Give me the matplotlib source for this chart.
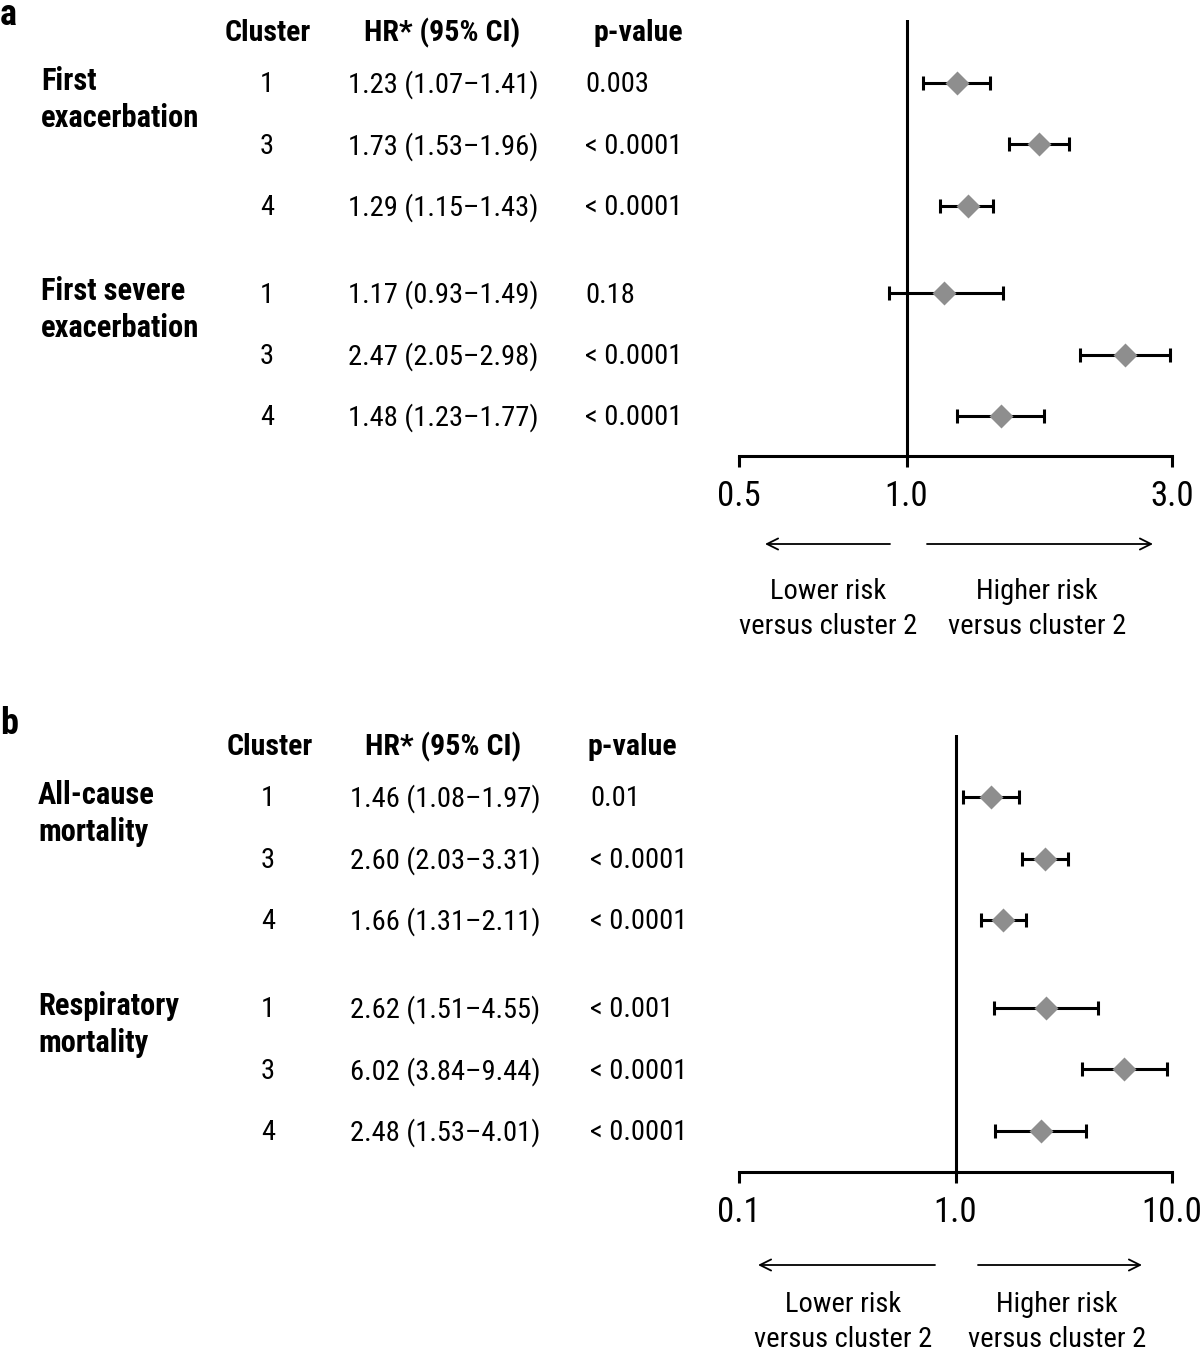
import matplotlib
matplotlib.use("Agg")
import matplotlib.pyplot as plt
import matplotlib.transforms as mtransforms
from matplotlib.patches import FancyArrowPatch
from matplotlib.ticker import NullLocator
import numpy as np

plt.rcParams['font.family'] = ['Nimbus Sans Narrow', 'Roboto Condensed',
                               'IBM Plex Sans Condensed', 'DejaVu Sans']

# ------------------------------------------------------------
# Dati
groups_a = ["First\nexacerbation", "First severe\nexacerbation"]
clusters_a = ["1", "3", "4", "1", "3", "4"]
hr_a = [1.23, 1.73, 1.29, 1.17, 2.47, 1.48]
lo_a = [1.07, 1.53, 1.15, 0.93, 2.05, 1.23]
hi_a = [1.41, 1.96, 1.43, 1.49, 2.98, 1.77]
p_a = ["0.003", "< 0.0001", "< 0.0001", "0.18", "< 0.0001", "< 0.0001"]
ticks_a = [0.5, 1.0, 3.0]
ticklabels_a = ["0.5", "1.0", "3.0"]

groups_b = ["All-cause\nmortality", "Respiratory\nmortality"]
clusters_b = ["1", "3", "4", "1", "3", "4"]
hr_b = [1.46, 2.60, 1.66, 2.62, 6.02, 2.48]
lo_b = [1.08, 2.03, 1.31, 1.51, 3.84, 1.53]
hi_b = [1.97, 3.31, 2.11, 4.55, 9.44, 4.01]
p_b = ["0.01", "< 0.0001", "< 0.0001", "< 0.001", "< 0.0001", "< 0.0001"]
ticks_b = [0.1, 1.0, 10.0]
ticklabels_b = ["0.1", "1.0", "10.0"]
# ------------------------------------------------------------

W, H = 1200, 1351
fig = plt.figure(figsize=(W / 100, H / 100), dpi=100)


def fx(px):
    return px / W


def fy(py):
    return 1 - py / H


# posizioni delle righe: 3 righe per gruppo, con uno spazio tra i gruppi
GAP = 1.43
rows = np.array([0, 1, 2, GAP + 2, GAP + 3, GAP + 4])

BODY = 20.5
HEAD = 21.5
GROUP = 22
LW = 2.2
DY = 0.03  # piccolo spostamento verticale del testo delle righe


def forest_panel(letter, letter_px, top_px, row0_px, step_px, base_px, groups, clusters,
                 hr, lo, hi, pvals, ticks, ticklabels, cols, arrows, risk_x):
    """Disegna un pannello: tabella di testo a sinistra e forest plot a destra."""
    y_top = (top_px - row0_px) / step_px
    y_bot = (base_px - row0_px) / step_px
    ax = fig.add_axes([fx(739), fy(base_px), fx(1172) - fx(739), (base_px - top_px) / H])
    ax.set_xscale('log')
    ax.set_xlim(ticks[0], ticks[-1])
    ax.set_ylim(y_bot, y_top)

    hr = np.array(hr)
    lo = np.array(lo)
    hi = np.array(hi)
    ax.axvline(1.0, color='black', lw=LW, zorder=1)
    ax.errorbar(hr, rows, xerr=[hr - lo, hi - hr], fmt='none', ecolor='black',
                elinewidth=LW, capsize=4.7, capthick=LW, zorder=2)
    ax.plot(hr, rows, 'D', color='#8e8e8e', ms=12.5, mec='none', zorder=3)

    for s in ['left', 'top', 'right']:
        ax.spines[s].set_visible(False)
    ax.spines['bottom'].set_linewidth(LW)
    ax.set_yticks([])
    ax.set_xticks(ticks)
    ax.set_xticklabels(ticklabels)
    ax.xaxis.set_minor_locator(NullLocator())
    ax.tick_params(axis='x', length=8, width=LW, pad=9, labelsize=25)
    ax.patch.set_visible(False)

    # tabella di testo
    tr = mtransforms.blended_transform_factory(fig.transFigure, ax.transData)
    c_head, hr_head, p_head, c_num, hr_left, p_left, g_left = cols
    yh = -0.81
    ax.text(fx(c_head), yh, "Cluster", transform=tr, ha='center', va='center',
            fontsize=HEAD, fontweight='bold')
    ax.text(fx(hr_head), yh, "HR* (95% CI)", transform=tr, ha='center', va='center',
            fontsize=HEAD, fontweight='bold')
    ax.text(fx(p_head), yh, "p-value", transform=tr, ha='center', va='center',
            fontsize=HEAD, fontweight='bold')
    for i in range(len(hr)):
        ax.text(fx(c_num), rows[i] + DY, clusters[i], transform=tr, ha='center',
                va='center', fontsize=BODY)
        ax.text(fx(hr_left), rows[i] + DY, "%.2f (%.2f\u2013%.2f)" % (hr[i], lo[i], hi[i]),
                transform=tr, ha='left', va='center', fontsize=BODY)
        ax.text(fx(p_left), rows[i] + DY, pvals[i], transform=tr, ha='left',
                va='center', fontsize=BODY)
    for g, name in enumerate(groups):
        ax.text(fx(g_left), rows[3 * g] + 0.27, name, transform=tr, ha='left',
                va='center', fontsize=GROUP, fontweight='bold', linespacing=1.3)

    fig.text(fx(0), fy(letter_px), letter, ha='left', va='baseline',
             fontsize=26, fontweight='bold')

    # frecce e testo rischio
    (l0, l1, r0, r1, ya) = arrows
    for a, b in [(l0, l1), (r0, r1)]:
        fig.add_artist(FancyArrowPatch(
            (fx(a), fy(ya)), (fx(b), fy(ya)), transform=fig.transFigure,
            arrowstyle='->', mutation_scale=20, lw=1.3, color='black',
            shrinkA=0, shrinkB=0))
    (lx, hx, yt) = risk_x
    fig.text(fx(lx), fy(yt), "Lower risk\nversus cluster 2", ha='center', va='center',
             fontsize=BODY, linespacing=1.35)
    fig.text(fx(hx), fy(yt), "Higher risk\nversus cluster 2", ha='center', va='center',
             fontsize=BODY, linespacing=1.35)
    return ax


forest_panel("a", 25, 20, 83, 61.3, 456, groups_a, clusters_a, hr_a, lo_a, hi_a, p_a,
             ticks_a, ticklabels_a,
             (268, 442, 638, 267, 348, 585, 41),
             (890, 765, 927, 1153, 544),
             (828, 1037, 609))

forest_panel("b", 734, 735, 797, 61.5, 1172, groups_b, clusters_b, hr_b, lo_b, hi_b, p_b,
             ticks_b, ticklabels_b,
             (270, 443, 632, 268, 350, 590, 38),
             (935, 758, 978, 1142, 1265),
             (843, 1057, 1322))

fig.savefig("out.png", dpi=100)
